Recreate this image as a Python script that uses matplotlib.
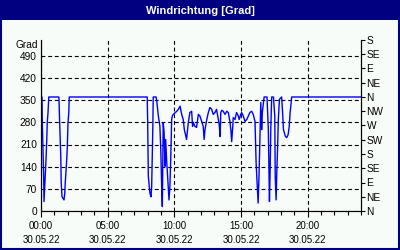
import matplotlib
matplotlib.use("Agg")
import matplotlib.pyplot as plt
from matplotlib.patches import Rectangle
import numpy as np

plt.rcParams['font.family'] = ['Liberation Sans', 'DejaVu Sans']

# minutes since 00:00 on 30.05.22
minutes = [0, 4.5, 6, 9, 12, 13.5, 17, 19, 22.5, 26, 28, 31.5, 35, 80, 81, 84, 89, 91, 94.5, 99,
           103.5, 107, 109, 114, 118, 121.5, 125, 127, 478, 480, 483, 487, 490, 495, 498, 503, 505,
           518, 521, 528, 535, 539, 543, 546, 550, 554, 558, 561, 566, 568, 573, 576, 580, 584,
           588, 591, 595, 603, 611, 618, 626, 633, 640, 645, 648, 655, 663, 670, 678, 682, 685,
           693, 700, 708, 715, 723, 730, 734, 738, 746, 753, 760, 768, 775, 783, 790, 798, 802,
           806, 809, 813, 820, 828, 836, 843, 850, 855, 858, 863, 865, 873, 880, 888, 892, 899,
           903, 910, 918, 926, 933, 940, 948, 955, 963, 968, 971, 977, 981, 986, 989, 993, 996,
           1004, 1017, 1023, 1026, 1028, 1031, 1034, 1038, 1046, 1052, 1054, 1058, 1061, 1064,
           1068, 1073, 1083, 1088, 1091, 1100, 1106, 1112, 1117, 1121, 1124, 1128, 1440]
direction = [360, 360, 278, 194, 109, 30, 77, 109, 162, 226, 278, 310, 360, 360, 352, 278, 172, 88,
             45, 40, 35, 56, 88, 141, 194, 278, 310, 360, 360, 283, 109, 77, 57, 45, 77, 257, 360,
             360, 347, 300, 268, 194, 77, 14, 278, 248, 141, 226, 152, 130, 67, 35, 77, 172,
             289, 300, 305, 310, 315, 321, 331, 305, 289, 257, 248, 226, 280, 311, 315, 267, 280,
             267, 264, 305, 300, 283, 267, 226, 257, 289, 311, 327, 321, 305, 311, 321, 289, 273,
             235, 311, 318, 315, 305, 315, 311, 283, 251, 219, 267, 295, 289, 311, 300, 289, 305,
             311, 300, 283, 289, 300, 311, 315, 305, 283, 152, 108, 25, 108, 257, 343, 257, 311,
             360, 360, 257, 108, 30, 121, 257, 360, 360, 300, 108, 35, 121, 184,
             289, 353, 360, 300, 257, 235, 232, 241, 267, 311, 330, 360, 360]

left_ticks = [0, 70, 140, 210, 280, 350, 420, 490]
right_ticks = [0, 45, 90, 135, 180, 225, 270, 315, 360, 405, 450, 495, 540]
right_labels = ['N', 'NE', 'E', 'SE', 'S', 'SW', 'W', 'NW', 'N', 'NE', 'E', 'SE', 'S']
x_major_hours = [0, 5, 10, 15, 20]
x_major_labels = ['00:00\n30.05.22', '05:00\n30.05.22', '10:00\n30.05.22',
                  '15:00\n30.05.22', '20:00\n30.05.22']
title = 'Windrichtung [Grad]'
unit = 'Grad'

W, H = 400, 250
fig = plt.figure(figsize=(W / 100, H / 100), dpi=100)
bg = '#f8fcf8'
navy = '#000080'
fig.patch.set_facecolor(bg)

# frame and title bar
fig.patches.append(Rectangle((0, 1 - 20 / H), 1, 20 / H, transform=fig.transFigure,
                             facecolor=navy, edgecolor='none', zorder=0))
fig.patches.append(Rectangle((1 / W, 1 / H), 1 - 2 / W, 1 - 2 / H, transform=fig.transFigure,
                             facecolor='none', edgecolor=navy, linewidth=1.5, zorder=1))
fig.text(0.5, 1 - 10.5 / H, title, color='white', fontsize=8, fontweight='bold',
         ha='center', va='center')

ax = fig.add_axes([41 / W, 1 - 211 / H, 320 / W, 171 / H])
ax.set_facecolor(bg)
hours = np.array(minutes) / 60.0
ax.plot(hours, direction, color='#0000ff', linewidth=1.0, zorder=3)

ax.set_xlim(0, 24)
ax.set_ylim(0, 540)
ax.set_yticks(left_ticks)
ax.set_yticklabels([str(t) for t in left_ticks])
ax.set_xticks(x_major_hours)
ax.set_xticklabels(x_major_labels, linespacing=1.55)
ax.set_xticks(np.arange(0, 25, 1), minor=True)

ax.grid(True, which='major', color='black', linestyle=(0, (3.5, 2.5)), linewidth=0.8)
ax.tick_params(axis='y', which='both', length=0, pad=3, labelsize=7.3, colors='black')
ax.tick_params(axis='x', which='major', length=4, width=0.8, pad=3, labelsize=7)
ax.tick_params(axis='x', which='minor', length=3, width=0.8)
for s in ['left', 'bottom', 'right']:
    ax.spines[s].set_linewidth(0.8)
ax.spines['top'].set_visible(False)

ax2 = ax.twinx()
ax2.set_ylim(0, 540)
ax2.set_yticks(right_ticks)
ax2.set_yticklabels(right_labels)
ax2.tick_params(axis='y', length=3, width=0.8, pad=1, labelsize=7.3)
ax2.spines['top'].set_visible(False)
ax2.spines['right'].set_linewidth(0.8)

fig.text(38 / W, 1 - 45 / H, unit, fontsize=7.3, ha='right', va='center')

fig.savefig('out.png', dpi=100, facecolor=fig.get_facecolor())
